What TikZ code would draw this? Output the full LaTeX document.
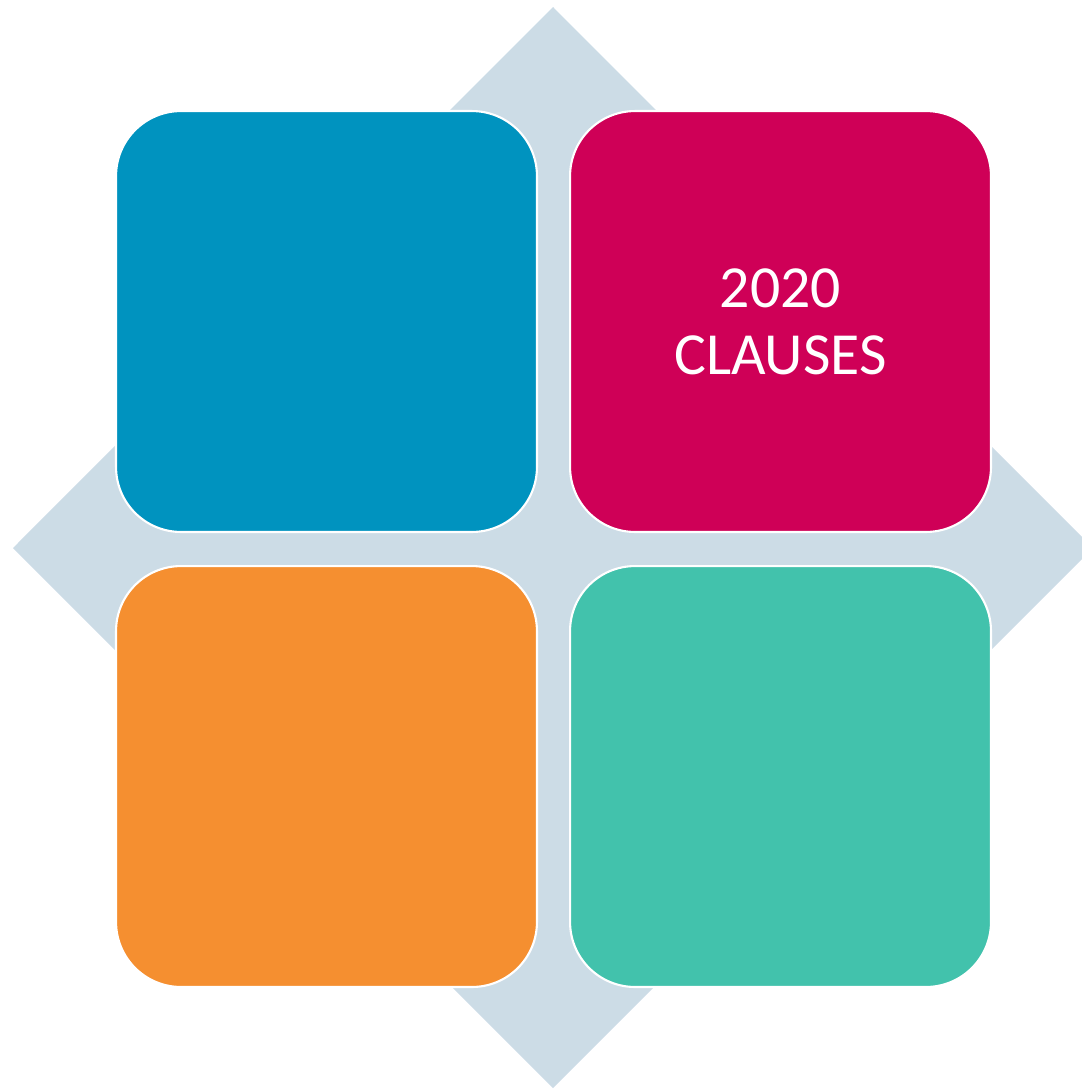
\documentclass[tikz,border=0pt]{standalone}
\usepackage{xcolor}
\usepackage{fontspec}
\setsansfont{Carlito}
\usepackage{tikz}
\usetikzlibrary{positioning}
\definecolor{diamondgray}{HTML}{CCDCE6}
\definecolor{quadblue}{HTML}{0093BF}
\definecolor{quadmagenta}{HTML}{CF0057}
\definecolor{quadorange}{HTML}{F58F30}
\definecolor{quadteal}{HTML}{42C2AC}
\tikzset{
  quad node/.style={rectangle,draw=white,line width=1.2pt,rounded corners=1.3cm,minimum width=8.42cm,minimum height=8.42cm,inner sep=0pt},
  quad text/.style={text=white,font=\sffamily\fontsize{34}{38}\selectfont,align=center}
}
\begin{document}
\begin{tikzpicture}[x=0.02cm,y=-0.02cm,node distance=0.62cm]
		    \useasboundingbox (0,0) rectangle (1082,1089);
		    \clip (0,0) rectangle (1082,1089);
		
		    \fill[diamondgray] (553,7) -- (1093,548) -- (553,1088) -- (13,548) -- cycle;
		
		    \node[quad node,fill=quadblue] (1) at (326.5,321.5) {};
		    \node[quad node,fill=quadmagenta,quad text] (2) [right=of 1] {2020\\CLAUSES};
		    \node[quad node,fill=quadorange] (3) [below=0.64cm of 1] {};
		    \node[quad node,fill=quadteal] (4) [right=of 3] {};
		  \end{tikzpicture}
\end{document}
